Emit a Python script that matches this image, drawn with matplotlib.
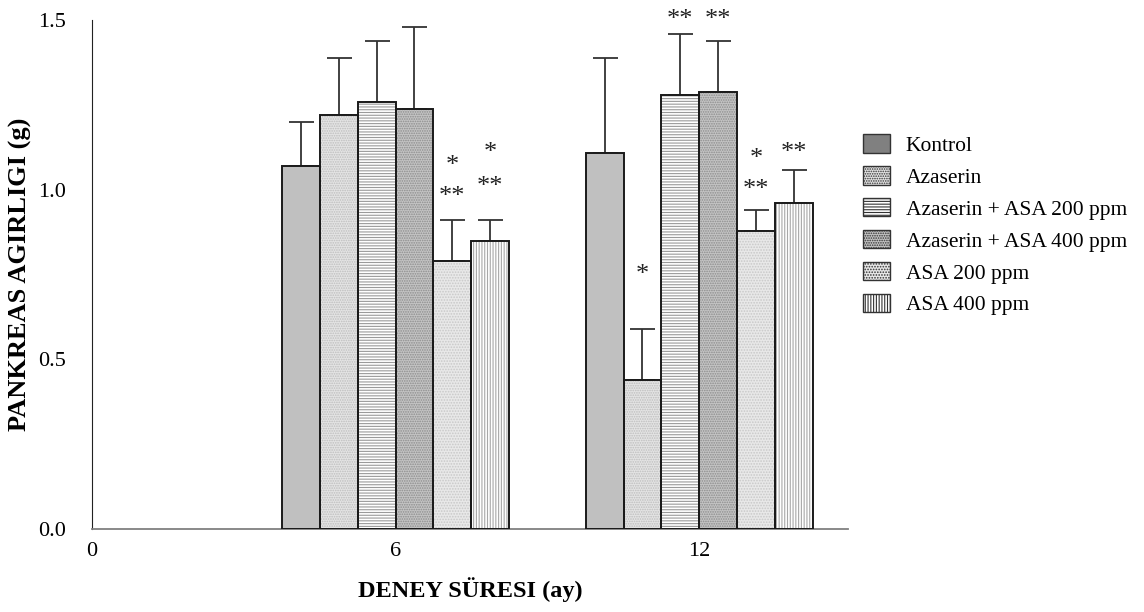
import matplotlib.pyplot as plt
from matplotlib.patches import Patch
import numpy as np

plt.rcParams['font.family'] = ['Liberation Serif', 'DejaVu Serif']
plt.rcParams['hatch.linewidth'] = 0.8

# Data
months = ['0', '6', '12']
groups = ['Kontrol', 'Azaserin', 'Azaserin + ASA 200 ppm',
          'Azaserin + ASA 400 ppm', 'ASA 200 ppm', 'ASA 400 ppm']
mean_6 = [1.07, 1.22, 1.26, 1.24, 0.79, 0.85]
sd_6 = [0.13, 0.17, 0.18, 0.24, 0.12, 0.06]
mean_12 = [1.11, 0.44, 1.28, 1.29, 0.88, 0.96]
sd_12 = [0.28, 0.15, 0.18, 0.15, 0.06, 0.10]

# significance marks: (month index, group index, text, y)
stars = [
    (1, 4, '*', 1.07), (1, 4, '**', 0.98),
    (1, 5, '*', 1.11), (1, 5, '**', 1.01),
    (2, 1, '*', 0.75),
    (2, 2, '**', 1.50), (2, 3, '**', 1.50),
    (2, 4, '*', 1.09), (2, 4, '**', 1.00),
    (2, 5, '**', 1.11),
]

# styles
fills = ['#c0c0c0', '#e4e4e4', '#ffffff', '#c4c4c4', '#e8e8e8', '#ffffff']
hatches = ['', '.......', '------', '.......', '......', '||||||']
hatch_cols = ['#c0c0c0', '#bdbdbd', '#9a9a9a', '#8c8c8c', '#c8c8c8', '#a8a8a8']
legend_fills = ['#808080', '#e4e4e4', '#ffffff', '#c4c4c4', '#e8e8e8', '#ffffff']

fig = plt.figure(figsize=(11.44, 6.12), dpi=100)
ax = fig.add_axes([0.0804, 0.1356, 0.6608, 0.8311])

w = 0.1245
x = np.arange(len(months))
for gi in range(len(groups)):
    off = (gi - 2.5) * w
    xs = x[1:] + off
    vals = [mean_6[gi], mean_12[gi]]
    errs = [sd_6[gi], sd_12[gi]]
    ax.bar(xs, vals, w, color=fills[gi], hatch=hatches[gi],
           edgecolor=hatch_cols[gi], linewidth=0, zorder=2)
    ax.bar(xs, vals, w, fill=False, edgecolor='#1a1a1a', linewidth=1.4, zorder=3)
    ax.errorbar(xs, vals, yerr=[[0, 0], errs], fmt='none', ecolor='#333333',
                elinewidth=1.3, capsize=9, capthick=1.3, zorder=1)

for mi, gi, txt, y in stars:
    ax.text(x[mi] + (gi - 2.5) * w, y, txt, ha='center', va='center',
            fontsize=19, color='#222222', clip_on=False)

ax.set_xlim(0, 2.49)
ax.set_ylim(0, 1.5)
ax.set_xticks(x)
ax.set_xticklabels(months)
ax.set_yticks([0, 0.5, 1.0, 1.5])
ax.set_yticklabels(['0.0', '0.5', '1.0', '1.5'])
ax.tick_params(axis='both', length=0, labelsize=16)
ax.tick_params(axis='y', pad=19)
ax.tick_params(axis='x', pad=9)
for s in ['top', 'right']:
    ax.spines[s].set_visible(False)
ax.spines['left'].set_color('#222222')
ax.spines['bottom'].set_color('#808080')
ax.spines['bottom'].set_linewidth(1.3)

ax.set_xlabel('DENEY SÜRESI (ay)', fontsize=17.5, fontweight='bold')
ax.set_ylabel('PANKREAS AGIRLIGI (g)', fontsize=19, fontweight='bold')
ax.xaxis.set_label_coords(0.5, -0.095)
ax.yaxis.set_label_coords(-0.08, 0.5)

handles = [Patch(facecolor=legend_fills[i], hatch=hatches[i], edgecolor='#333333',
                 linewidth=1.0) for i in range(len(groups))]
fig.legend(handles, groups, loc='upper left', bbox_to_anchor=(0.737, 0.812),
           frameon=False, fontsize=15.5, handlelength=1.3, handleheight=0.93,
           handletextpad=0.7, labelspacing=0.48)

fig.savefig('out.png', dpi=100)
